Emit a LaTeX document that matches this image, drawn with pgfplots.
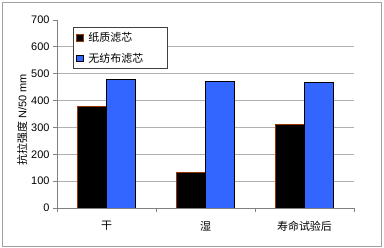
\documentclass[border=0pt]{standalone}
\usepackage{pgfplots}
\pgfplotsset{compat=1.18}
\usepackage{fontspec}
\setmainfont{Liberation Sans}
\newfontfamily\cjk{Noto Sans CJK SC}
\definecolor{barblue}{HTML}{3366FF}
\definecolor{baredge}{HTML}{993300}
\definecolor{gridc}{HTML}{B0B0B0}
\definecolor{framec}{HTML}{A0A0A0}
\begin{document}
\begin{tikzpicture}
\path[use as bounding box] (0bp,0bp) rectangle (384bp,248bp);
\draw[color=framec, line width=0.8bp] (2bp,2bp) rectangle (381bp,246bp);
\begin{axis}[
  at={(57bp,40bp)}, anchor=south west,
  scale only axis, width=297bp, height=188bp,
  xmin=-0.5, xmax=2.5, ymin=0, ymax=700,
  ytick={0,100,...,600},
  extra y ticks={700},
  extra y tick style={grid=none},
  ymajorgrids,
  grid style={color=gridc, line width=0.8bp},
  axis x line*=bottom, axis y line*=left,
  axis line style={-, color=gray, line width=0.8bp},
  xtick={0,1,2},
  xticklabels={{\cjk 干},{\cjk 湿},{\cjk 寿命试验后}},
  minor xtick={-0.5,0.5,1.5,2.5},
  major x tick style={draw=none},
  minor x tick style={color=gray, line width=0.8bp},
  ytick style={color=gray, line width=0.8bp},
  tick align=outside,
  major tick length=4bp, minor tick length=4bp,
  xticklabel style={yshift=-6bp},
  tick label style={font=\fontsize{11}{13}\selectfont},
  /pgf/number format/assume math mode=true,
  ylabel={{\cjk 抗拉强度} N/50 mm},
  ylabel style={at={(axis description cs:-0.117,0.47)}, anchor=center, font=\fontsize{11}{13}\selectfont},
  bar width=0.29,
  legend style={at={(0.053,0.963)}, anchor=north west, draw=darkgray, fill=white,
    font=\fontsize{11}{13}\selectfont, row sep=6bp, inner xsep=3bp, inner ysep=3bp, line width=0.8bp},
  legend cell align=left,
  legend image code/.code={\draw[#1, line width=0.8bp] (0bp,-3.2bp) rectangle (6.4bp,3.2bp); \path (9.5bp,0bp);},
]
\addplot[ybar, bar shift=-0.145, fill=black, draw=baredge, line width=0.8bp] coordinates {(0,377) (1,132) (2,311)};
\addlegendentry{\makebox[74bp][l]{\cjk 纸质滤芯}}
\addplot[ybar, bar shift=0.145, fill=barblue, draw=black, line width=0.8bp] coordinates {(0,480) (1,472) (2,467)};
\addlegendentry{\makebox[74bp][l]{\cjk 无纺布滤芯}}
\end{axis}
\end{tikzpicture}
\end{document}
